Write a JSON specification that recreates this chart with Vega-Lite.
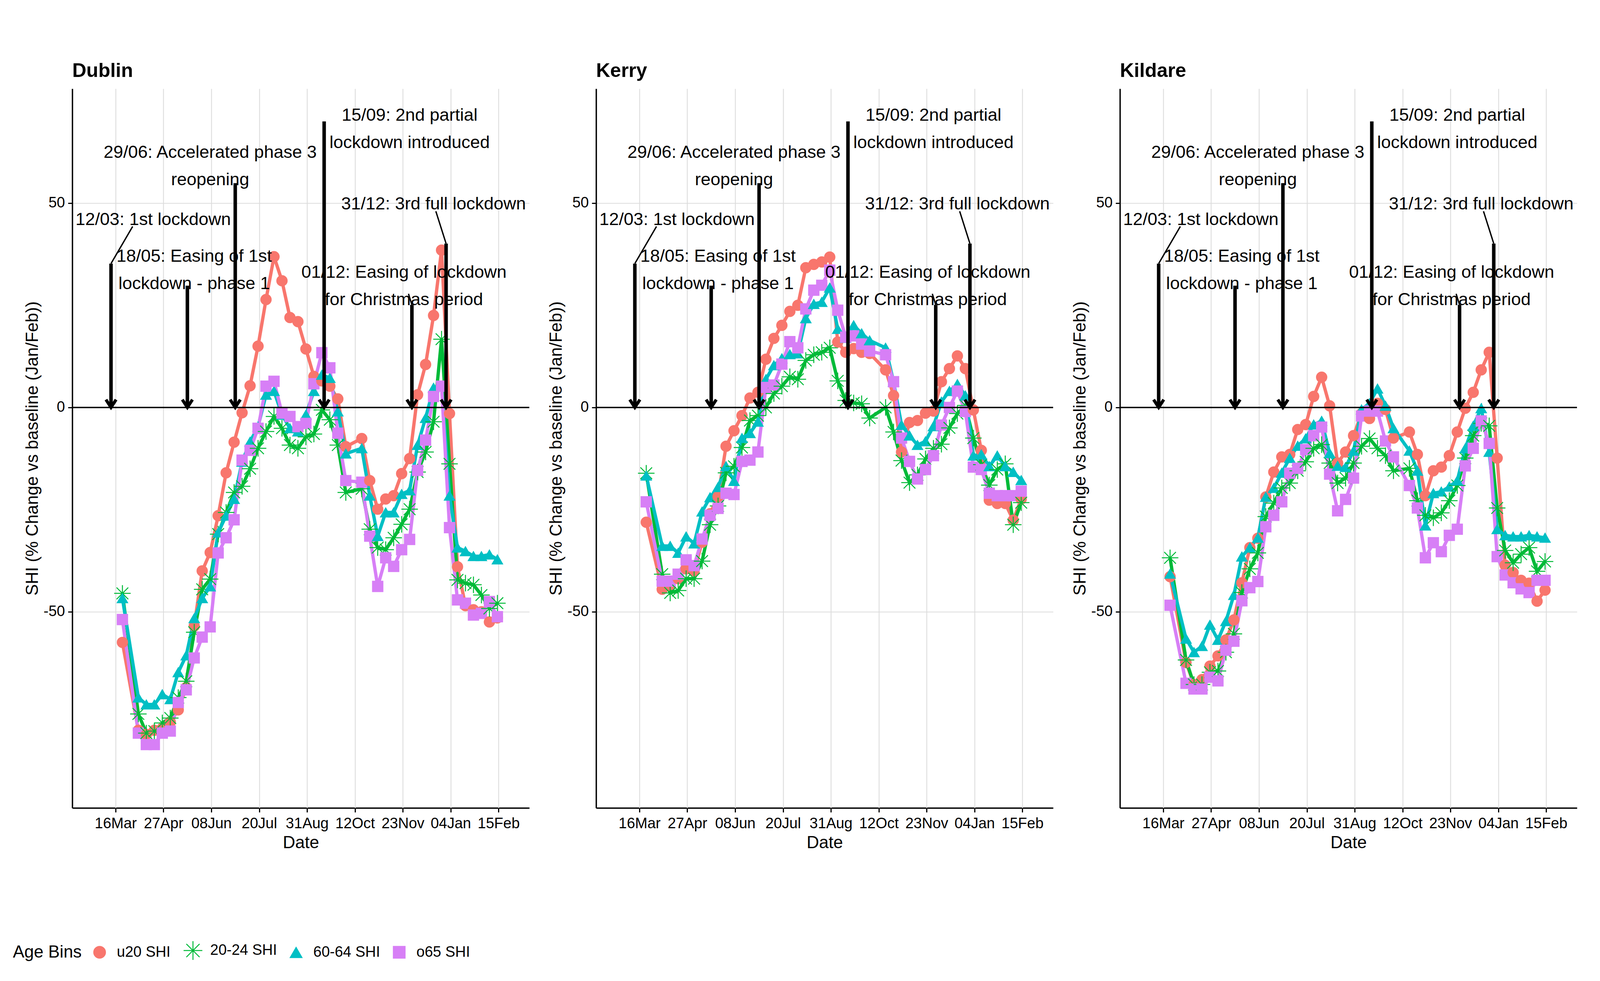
{
  "$schema": "https://vega.github.io/schema/vega-lite/v6.json",
  "background": "white",
  "padding": {"left": 33, "top": 157, "right": 10, "bottom": 10},
  "config": {
    "font": "Liberation Sans",
    "view": {"stroke": null},
    "axis": {"domainColor": "black", "domainWidth": 3.5, "tickColor": "black", "tickWidth": 3, "tickSize": 11, "labelColor": "black", "labelFontSize": 38, "titleFontSize": 44, "titleFontWeight": "normal", "titleColor": "black", "gridColor": "#DCDCDC", "gridWidth": 2.2, "labelFont": "Liberation Sans", "titleFont": "Liberation Sans"},
    "header": {"labelFontSize": 50, "labelFontWeight": "bold", "labelAnchor": "start", "labelColor": "black", "labelFont": "Liberation Sans", "labelPadding": 20},
    "legend": {"labelFontSize": 38, "titleFontSize": 44, "titleFontWeight": "normal", "labelColor": "black", "titleColor": "black", "symbolSize": 900, "symbolStrokeWidth": 2.5, "labelOffset": 25, "columnPadding": 28, "titlePadding": 26, "labelFont": "Liberation Sans", "titleFont": "Liberation Sans", "labelLimit": 500, "titleLimit": 500}
  },
  "data": {"values": [
    {"k":"s","r":"Dublin","d":"2020-03-22","u20 SHI":-57.5,"20-24 SHI":-45.5,"60-64 SHI":-46.7,"o65 SHI":-51.9},
    {"k":"s","r":"Dublin","d":"2020-04-05","u20 SHI":-79,"20-24 SHI":-75,"60-64 SHI":-71,"o65 SHI":-79.7},
    {"k":"s","r":"Dublin","d":"2020-04-12","u20 SHI":-80,"20-24 SHI":-79.7,"60-64 SHI":-72.7,"o65 SHI":-82.5},
    {"k":"s","r":"Dublin","d":"2020-04-19","u20 SHI":-79,"20-24 SHI":-79.2,"60-64 SHI":-72.7,"o65 SHI":-82.5},
    {"k":"s","r":"Dublin","d":"2020-04-26","u20 SHI":-78.5,"20-24 SHI":-77.2,"60-64 SHI":-70.2,"o65 SHI":-79.7},
    {"k":"s","r":"Dublin","d":"2020-05-03","u20 SHI":-77,"20-24 SHI":-76,"60-64 SHI":-71.4,"o65 SHI":-79.2},
    {"k":"s","r":"Dublin","d":"2020-05-10","u20 SHI":-74,"20-24 SHI":-71,"60-64 SHI":-64.8,"o65 SHI":-72.2},
    {"k":"s","r":"Dublin","d":"2020-05-17","u20 SHI":-68.5,"20-24 SHI":-67,"60-64 SHI":-60.7,"o65 SHI":-69.1},
    {"k":"s","r":"Dublin","d":"2020-05-24","u20 SHI":-53.5,"20-24 SHI":-55,"60-64 SHI":-51.6,"o65 SHI":-61.3},
    {"k":"s","r":"Dublin","d":"2020-05-31","u20 SHI":-40,"20-24 SHI":-44.5,"60-64 SHI":-46.7,"o65 SHI":-56.2},
    {"k":"s","r":"Dublin","d":"2020-06-07","u20 SHI":-35.5,"20-24 SHI":-42,"60-64 SHI":-43.8,"o65 SHI":-53.7},
    {"k":"s","r":"Dublin","d":"2020-06-14","u20 SHI":-26.5,"20-24 SHI":-31,"60-64 SHI":-30.6,"o65 SHI":-35.6},
    {"k":"s","r":"Dublin","d":"2020-06-21","u20 SHI":-16,"20-24 SHI":-25.7,"60-64 SHI":-26.5,"o65 SHI":-31.9},
    {"k":"s","r":"Dublin","d":"2020-06-28","u20 SHI":-8.5,"20-24 SHI":-20.8,"60-64 SHI":-22.4,"o65 SHI":-27.5},
    {"k":"s","r":"Dublin","d":"2020-07-05","u20 SHI":-1.3,"20-24 SHI":-19.3,"60-64 SHI":-13.3,"o65 SHI":-12.9},
    {"k":"s","r":"Dublin","d":"2020-07-12","u20 SHI":5.3,"20-24 SHI":-15,"60-64 SHI":-8.4,"o65 SHI":-10.5},
    {"k":"s","r":"Dublin","d":"2020-07-19","u20 SHI":15,"20-24 SHI":-10,"60-64 SHI":-4.7,"o65 SHI":-5.1},
    {"k":"s","r":"Dublin","d":"2020-07-26","u20 SHI":26.4,"20-24 SHI":-5.9,"60-64 SHI":3.1,"o65 SHI":5.2},
    {"k":"s","r":"Dublin","d":"2020-08-02","u20 SHI":36.9,"20-24 SHI":-2.2,"60-64 SHI":4,"o65 SHI":6.4},
    {"k":"s","r":"Dublin","d":"2020-08-09","u20 SHI":31,"20-24 SHI":-5.1,"60-64 SHI":-1.8,"o65 SHI":-1.4},
    {"k":"s","r":"Dublin","d":"2020-08-16","u20 SHI":22,"20-24 SHI":-9.2,"60-64 SHI":-5.1,"o65 SHI":-2.2},
    {"k":"s","r":"Dublin","d":"2020-08-23","u20 SHI":21,"20-24 SHI":-10,"60-64 SHI":-5.9,"o65 SHI":-4.7},
    {"k":"s","r":"Dublin","d":"2020-08-30","u20 SHI":14.3,"20-24 SHI":-7.2,"60-64 SHI":-1.8,"o65 SHI":-3.9},
    {"k":"s","r":"Dublin","d":"2020-09-06","u20 SHI":7.6,"20-24 SHI":-6.5,"60-64 SHI":4,"o65 SHI":5.8},
    {"k":"s","r":"Dublin","d":"2020-09-13","u20 SHI":6.5,"20-24 SHI":-0.6,"60-64 SHI":8,"o65 SHI":13.4},
    {"k":"s","r":"Dublin","d":"2020-09-20","u20 SHI":5.2,"20-24 SHI":-3,"60-64 SHI":7.2,"o65 SHI":9.7},
    {"k":"s","r":"Dublin","d":"2020-09-27","u20 SHI":2.1,"20-24 SHI":-9.2,"60-64 SHI":-1,"o65 SHI":-6.3},
    {"k":"s","r":"Dublin","d":"2020-10-04","u20 SHI":-9.6,"20-24 SHI":-20.8,"60-64 SHI":-11.3,"o65 SHI":-17.9},
    {"k":"s","r":"Dublin","d":"2020-10-18","u20 SHI":-7.6,"20-24 SHI":-19.9,"60-64 SHI":-10,"o65 SHI":-18.3},
    {"k":"s","r":"Dublin","d":"2020-10-25","u20 SHI":-17.9,"20-24 SHI":-29.8,"60-64 SHI":-21.6,"o65 SHI":-31.5},
    {"k":"s","r":"Dublin","d":"2020-11-01","u20 SHI":-24.9,"20-24 SHI":-34.3,"60-64 SHI":-31.5,"o65 SHI":-43.8},
    {"k":"s","r":"Dublin","d":"2020-11-08","u20 SHI":-22.4,"20-24 SHI":-34.8,"60-64 SHI":-25.7,"o65 SHI":-36.8},
    {"k":"s","r":"Dublin","d":"2020-11-15","u20 SHI":-21.6,"20-24 SHI":-31.9,"60-64 SHI":-25.7,"o65 SHI":-38.9},
    {"k":"s","r":"Dublin","d":"2020-11-22","u20 SHI":-16.2,"20-24 SHI":-28.6,"60-64 SHI":-21.2,"o65 SHI":-34.8},
    {"k":"s","r":"Dublin","d":"2020-11-29","u20 SHI":-12.5,"20-24 SHI":-24.9,"60-64 SHI":-20.3,"o65 SHI":-32.3},
    {"k":"s","r":"Dublin","d":"2020-12-06","u20 SHI":3.1,"20-24 SHI":-15.8,"60-64 SHI":-9.2,"o65 SHI":-15.4},
    {"k":"s","r":"Dublin","d":"2020-12-13","u20 SHI":10.5,"20-24 SHI":-10.9,"60-64 SHI":-2.6,"o65 SHI":-8},
    {"k":"s","r":"Dublin","d":"2020-12-20","u20 SHI":22.5,"20-24 SHI":-3.5,"60-64 SHI":4.8,"o65 SHI":2.7},
    {"k":"s","r":"Dublin","d":"2020-12-27","u20 SHI":38.5,"20-24 SHI":16.7,"60-64 SHI":5.2,"o65 SHI":5.2},
    {"k":"s","r":"Dublin","d":"2021-01-03","u20 SHI":-1.5,"20-24 SHI":-13.8,"60-64 SHI":-21.6,"o65 SHI":-29.4},
    {"k":"s","r":"Dublin","d":"2021-01-10","u20 SHI":-39,"20-24 SHI":-42.2,"60-64 SHI":-34.3,"o65 SHI":-47.1},
    {"k":"s","r":"Dublin","d":"2021-01-17","u20 SHI":-48.5,"20-24 SHI":-43,"60-64 SHI":-35.2,"o65 SHI":-47.9},
    {"k":"s","r":"Dublin","d":"2021-01-24","u20 SHI":-49.5,"20-24 SHI":-43.4,"60-64 SHI":-36.4,"o65 SHI":-50.8},
    {"k":"s","r":"Dublin","d":"2021-01-31","u20 SHI":-50,"20-24 SHI":-45.9,"60-64 SHI":-36.4,"o65 SHI":-50.4},
    {"k":"s","r":"Dublin","d":"2021-02-07","u20 SHI":-52.5,"20-24 SHI":-49.2,"60-64 SHI":-36,"o65 SHI":-47.5},
    {"k":"s","r":"Dublin","d":"2021-02-14","u20 SHI":-51.5,"20-24 SHI":-47.9,"60-64 SHI":-37.2,"o65 SHI":-51.2},
    {"k":"s","r":"Kerry","d":"2020-03-22","u20 SHI":-28.1,"20-24 SHI":-16.1,"60-64 SHI":-16.7,"o65 SHI":-23.1},
    {"k":"s","r":"Kerry","d":"2020-04-05","u20 SHI":-44.5,"20-24 SHI":-40.8,"60-64 SHI":-33.9,"o65 SHI":-42.5},
    {"k":"s","r":"Kerry","d":"2020-04-12","u20 SHI":-43.5,"20-24 SHI":-45.4,"60-64 SHI":-33.9,"o65 SHI":-42.5},
    {"k":"s","r":"Kerry","d":"2020-04-19","u20 SHI":-41.9,"20-24 SHI":-44.8,"60-64 SHI":-35.6,"o65 SHI":-40.8},
    {"k":"s","r":"Kerry","d":"2020-04-26","u20 SHI":-39.5,"20-24 SHI":-41.9,"60-64 SHI":-31.6,"o65 SHI":-37.3},
    {"k":"s","r":"Kerry","d":"2020-05-03","u20 SHI":-40,"20-24 SHI":-41.9,"60-64 SHI":-33.3,"o65 SHI":-38.7},
    {"k":"s","r":"Kerry","d":"2020-05-10","u20 SHI":-33,"20-24 SHI":-37.6,"60-64 SHI":-25.5,"o65 SHI":-32.2},
    {"k":"s","r":"Kerry","d":"2020-05-17","u20 SHI":-26,"20-24 SHI":-28.7,"60-64 SHI":-22,"o65 SHI":-26.4},
    {"k":"s","r":"Kerry","d":"2020-05-24","u20 SHI":-21.8,"20-24 SHI":-24.1,"60-64 SHI":-19.5,"o65 SHI":-24.7},
    {"k":"s","r":"Kerry","d":"2020-05-31","u20 SHI":-9.5,"20-24 SHI":-16,"60-64 SHI":-14.4,"o65 SHI":-21},
    {"k":"s","r":"Kerry","d":"2020-06-07","u20 SHI":-5.7,"20-24 SHI":-14.4,"60-64 SHI":-18,"o65 SHI":-21.3},
    {"k":"s","r":"Kerry","d":"2020-06-14","u20 SHI":-2,"20-24 SHI":-9.8,"60-64 SHI":-7.5,"o65 SHI":-13.2},
    {"k":"s","r":"Kerry","d":"2020-06-21","u20 SHI":2.3,"20-24 SHI":-3.2,"60-64 SHI":-6.3,"o65 SHI":-12.9},
    {"k":"s","r":"Kerry","d":"2020-06-28","u20 SHI":3.7,"20-24 SHI":-2,"60-64 SHI":-3.5,"o65 SHI":-10.9},
    {"k":"s","r":"Kerry","d":"2020-07-05","u20 SHI":11.8,"20-24 SHI":0,"60-64 SHI":6.9,"o65 SHI":4.9},
    {"k":"s","r":"Kerry","d":"2020-07-12","u20 SHI":16.9,"20-24 SHI":3.4,"60-64 SHI":10.3,"o65 SHI":5.5},
    {"k":"s","r":"Kerry","d":"2020-07-19","u20 SHI":20.1,"20-24 SHI":5.2,"60-64 SHI":12,"o65 SHI":10.6},
    {"k":"s","r":"Kerry","d":"2020-07-26","u20 SHI":23.5,"20-24 SHI":7.5,"60-64 SHI":13,"o65 SHI":16.1},
    {"k":"s","r":"Kerry","d":"2020-08-02","u20 SHI":25,"20-24 SHI":6.9,"60-64 SHI":13.2,"o65 SHI":14.6},
    {"k":"s","r":"Kerry","d":"2020-08-09","u20 SHI":34.2,"20-24 SHI":11.5,"60-64 SHI":21.8,"o65 SHI":24.1},
    {"k":"s","r":"Kerry","d":"2020-08-16","u20 SHI":35,"20-24 SHI":12.9,"60-64 SHI":25.3,"o65 SHI":28.7},
    {"k":"s","r":"Kerry","d":"2020-08-23","u20 SHI":35.6,"20-24 SHI":13.5,"60-64 SHI":25.8,"o65 SHI":29.9},
    {"k":"s","r":"Kerry","d":"2020-08-30","u20 SHI":36.8,"20-24 SHI":14.6,"60-64 SHI":29.3,"o65 SHI":33.6},
    {"k":"s","r":"Kerry","d":"2020-09-06","u20 SHI":16,"20-24 SHI":6.5,"60-64 SHI":19.2,"o65 SHI":23.8},
    {"k":"s","r":"Kerry","d":"2020-09-13","u20 SHI":13.5,"20-24 SHI":1.7,"60-64 SHI":17,"o65 SHI":17.2},
    {"k":"s","r":"Kerry","d":"2020-09-20","u20 SHI":14.4,"20-24 SHI":1.1,"60-64 SHI":20.1,"o65 SHI":17.5},
    {"k":"s","r":"Kerry","d":"2020-09-27","u20 SHI":13.5,"20-24 SHI":0.9,"60-64 SHI":18.1,"o65 SHI":15.5},
    {"k":"s","r":"Kerry","d":"2020-10-04","u20 SHI":13.2,"20-24 SHI":-2.6,"60-64 SHI":16.4,"o65 SHI":13.8},
    {"k":"s","r":"Kerry","d":"2020-10-18","u20 SHI":9.2,"20-24 SHI":0,"60-64 SHI":14.6,"o65 SHI":12.9},
    {"k":"s","r":"Kerry","d":"2020-10-25","u20 SHI":2.9,"20-24 SHI":-6,"60-64 SHI":6.3,"o65 SHI":6.3},
    {"k":"s","r":"Kerry","d":"2020-11-01","u20 SHI":-10.9,"20-24 SHI":-13,"60-64 SHI":-4.3,"o65 SHI":-7.5},
    {"k":"s","r":"Kerry","d":"2020-11-08","u20 SHI":-3.7,"20-24 SHI":-18.4,"60-64 SHI":-6.9,"o65 SHI":-13.2},
    {"k":"s","r":"Kerry","d":"2020-11-15","u20 SHI":-3.2,"20-24 SHI":-16.5,"60-64 SHI":-9.2,"o65 SHI":-17.5},
    {"k":"s","r":"Kerry","d":"2020-11-22","u20 SHI":-1.4,"20-24 SHI":-12.6,"60-64 SHI":-8.3,"o65 SHI":-15.2},
    {"k":"s","r":"Kerry","d":"2020-11-29","u20 SHI":-0.9,"20-24 SHI":-10,"60-64 SHI":-4.6,"o65 SHI":-11.8},
    {"k":"s","r":"Kerry","d":"2020-12-06","u20 SHI":6.3,"20-24 SHI":-9,"60-64 SHI":1.4,"o65 SHI":-4.3},
    {"k":"s","r":"Kerry","d":"2020-12-13","u20 SHI":9.5,"20-24 SHI":-5,"60-64 SHI":4,"o65 SHI":0},
    {"k":"s","r":"Kerry","d":"2020-12-20","u20 SHI":12.6,"20-24 SHI":-1.5,"60-64 SHI":5.7,"o65 SHI":4},
    {"k":"s","r":"Kerry","d":"2020-12-27","u20 SHI":9.5,"20-24 SHI":0.5,"60-64 SHI":2.9,"o65 SHI":-1},
    {"k":"s","r":"Kerry","d":"2021-01-03","u20 SHI":-0.6,"20-24 SHI":-7.5,"60-64 SHI":-11.8,"o65 SHI":-14.6},
    {"k":"s","r":"Kerry","d":"2021-01-10","u20 SHI":-10.5,"20-24 SHI":-14,"60-64 SHI":-11.5,"o65 SHI":-15.2},
    {"k":"s","r":"Kerry","d":"2021-01-17","u20 SHI":-22.7,"20-24 SHI":-19,"60-64 SHI":-14.4,"o65 SHI":-21},
    {"k":"s","r":"Kerry","d":"2021-01-24","u20 SHI":-23.5,"20-24 SHI":-15.2,"60-64 SHI":-11.8,"o65 SHI":-21.6},
    {"k":"s","r":"Kerry","d":"2021-01-31","u20 SHI":-23.5,"20-24 SHI":-13.8,"60-64 SHI":-14.4,"o65 SHI":-21.6},
    {"k":"s","r":"Kerry","d":"2021-02-07","u20 SHI":-27.6,"20-24 SHI":-28.7,"60-64 SHI":-15.8,"o65 SHI":-21.6},
    {"k":"s","r":"Kerry","d":"2021-02-14","u20 SHI":-22.4,"20-24 SHI":-23.3,"60-64 SHI":-17.8,"o65 SHI":-20.5},
    {"k":"s","r":"Kildare","d":"2020-03-22","u20 SHI":-41.4,"20-24 SHI":-36.8,"60-64 SHI":-40.7,"o65 SHI":-48.4},
    {"k":"s","r":"Kildare","d":"2020-04-05","u20 SHI":-62.4,"20-24 SHI":-61.8,"60-64 SHI":-56.6,"o65 SHI":-67.5},
    {"k":"s","r":"Kildare","d":"2020-04-12","u20 SHI":-67.8,"20-24 SHI":-67.8,"60-64 SHI":-59.9,"o65 SHI":-68.9},
    {"k":"s","r":"Kildare","d":"2020-04-19","u20 SHI":-66.6,"20-24 SHI":-67.8,"60-64 SHI":-58.4,"o65 SHI":-68.9},
    {"k":"s","r":"Kildare","d":"2020-04-26","u20 SHI":-63.3,"20-24 SHI":-64.8,"60-64 SHI":-53.2,"o65 SHI":-66},
    {"k":"s","r":"Kildare","d":"2020-05-03","u20 SHI":-60.8,"20-24 SHI":-64.5,"60-64 SHI":-56.9,"o65 SHI":-66.9},
    {"k":"s","r":"Kildare","d":"2020-05-10","u20 SHI":-56.9,"20-24 SHI":-59.9,"60-64 SHI":-52.3,"o65 SHI":-59.4},
    {"k":"s","r":"Kildare","d":"2020-05-17","u20 SHI":-52,"20-24 SHI":-55.4,"60-64 SHI":-45.9,"o65 SHI":-57.2},
    {"k":"s","r":"Kildare","d":"2020-05-24","u20 SHI":-42.9,"20-24 SHI":-45.3,"60-64 SHI":-36.5,"o65 SHI":-47.3},
    {"k":"s","r":"Kildare","d":"2020-05-31","u20 SHI":-34.3,"20-24 SHI":-39.5,"60-64 SHI":-34.3,"o65 SHI":-44.1},
    {"k":"s","r":"Kildare","d":"2020-06-07","u20 SHI":-32,"20-24 SHI":-35.6,"60-64 SHI":-31.9,"o65 SHI":-42.6},
    {"k":"s","r":"Kildare","d":"2020-06-14","u20 SHI":-21.9,"20-24 SHI":-26.7,"60-64 SHI":-21.9,"o65 SHI":-29.2},
    {"k":"s","r":"Kildare","d":"2020-06-21","u20 SHI":-15.8,"20-24 SHI":-23.4,"60-64 SHI":-19.7,"o65 SHI":-26.4},
    {"k":"s","r":"Kildare","d":"2020-06-28","u20 SHI":-12.1,"20-24 SHI":-19.7,"60-64 SHI":-16,"o65 SHI":-23.1},
    {"k":"s","r":"Kildare","d":"2020-07-05","u20 SHI":-11.5,"20-24 SHI":-18.5,"60-64 SHI":-12.4,"o65 SHI":-16.1},
    {"k":"s","r":"Kildare","d":"2020-07-12","u20 SHI":-5.4,"20-24 SHI":-15.5,"60-64 SHI":-9.4,"o65 SHI":-14.9},
    {"k":"s","r":"Kildare","d":"2020-07-19","u20 SHI":-4.2,"20-24 SHI":-13.3,"60-64 SHI":-7.6,"o65 SHI":-10.3},
    {"k":"s","r":"Kildare","d":"2020-07-26","u20 SHI":2.7,"20-24 SHI":-10,"60-64 SHI":-4.2,"o65 SHI":-6.9},
    {"k":"s","r":"Kildare","d":"2020-08-02","u20 SHI":7.4,"20-24 SHI":-9.1,"60-64 SHI":-3.3,"o65 SHI":-4.8},
    {"k":"s","r":"Kildare","d":"2020-08-09","u20 SHI":0.4,"20-24 SHI":-13.6,"60-64 SHI":-11.2,"o65 SHI":-16.3},
    {"k":"s","r":"Kildare","d":"2020-08-16","u20 SHI":-13.6,"20-24 SHI":-18.5,"60-64 SHI":-14.3,"o65 SHI":-25.3},
    {"k":"s","r":"Kildare","d":"2020-08-23","u20 SHI":-10.9,"20-24 SHI":-17.3,"60-64 SHI":-14.6,"o65 SHI":-22.5},
    {"k":"s","r":"Kildare","d":"2020-08-30","u20 SHI":-6.9,"20-24 SHI":-13.6,"60-64 SHI":-10.6,"o65 SHI":-17.3},
    {"k":"s","r":"Kildare","d":"2020-09-06","u20 SHI":-1.5,"20-24 SHI":-9.5,"60-64 SHI":-0.5,"o65 SHI":-2.1},
    {"k":"s","r":"Kildare","d":"2020-09-13","u20 SHI":-2.7,"20-24 SHI":-7.6,"60-64 SHI":1,"o65 SHI":-0.9},
    {"k":"s","r":"Kildare","d":"2020-09-20","u20 SHI":1,"20-24 SHI":-10,"60-64 SHI":4.6,"o65 SHI":-0.9},
    {"k":"s","r":"Kildare","d":"2020-09-27","u20 SHI":-0.5,"20-24 SHI":-11.8,"60-64 SHI":0.4,"o65 SHI":-8.2},
    {"k":"s","r":"Kildare","d":"2020-10-04","u20 SHI":-7.5,"20-24 SHI":-15.5,"60-64 SHI":-5.1,"o65 SHI":-12.1},
    {"k":"s","r":"Kildare","d":"2020-10-18","u20 SHI":-6,"20-24 SHI":-14.9,"60-64 SHI":-10.6,"o65 SHI":-19.1},
    {"k":"s","r":"Kildare","d":"2020-10-25","u20 SHI":-11.5,"20-24 SHI":-22.8,"60-64 SHI":-15.5,"o65 SHI":-24.6},
    {"k":"s","r":"Kildare","d":"2020-11-01","u20 SHI":-21.6,"20-24 SHI":-26.4,"60-64 SHI":-28.9,"o65 SHI":-36.8},
    {"k":"s","r":"Kildare","d":"2020-11-08","u20 SHI":-15.5,"20-24 SHI":-27,"60-64 SHI":-21,"o65 SHI":-33.1},
    {"k":"s","r":"Kildare","d":"2020-11-15","u20 SHI":-14.6,"20-24 SHI":-25.8,"60-64 SHI":-20.6,"o65 SHI":-35.3},
    {"k":"s","r":"Kildare","d":"2020-11-22","u20 SHI":-11.8,"20-24 SHI":-22.8,"60-64 SHI":-19.4,"o65 SHI":-31.3},
    {"k":"s","r":"Kildare","d":"2020-11-29","u20 SHI":-6,"20-24 SHI":-19.1,"60-64 SHI":-17.9,"o65 SHI":-29.8},
    {"k":"s","r":"Kildare","d":"2020-12-06","u20 SHI":-0.2,"20-24 SHI":-12.4,"60-64 SHI":-10,"o65 SHI":-14.3},
    {"k":"s","r":"Kildare","d":"2020-12-13","u20 SHI":3.7,"20-24 SHI":-6.9,"60-64 SHI":-4.5,"o65 SHI":-10},
    {"k":"s","r":"Kildare","d":"2020-12-20","u20 SHI":9.2,"20-24 SHI":-3.9,"60-64 SHI":-0.2,"o65 SHI":-3.3},
    {"k":"s","r":"Kildare","d":"2020-12-27","u20 SHI":13.5,"20-24 SHI":-4.5,"60-64 SHI":-10.9,"o65 SHI":-8.8},
    {"k":"s","r":"Kildare","d":"2021-01-03","u20 SHI":-12.4,"20-24 SHI":-24.6,"60-64 SHI":-29.8,"o65 SHI":-36.5},
    {"k":"s","r":"Kildare","d":"2021-01-10","u20 SHI":-38.6,"20-24 SHI":-35,"60-64 SHI":-31.3,"o65 SHI":-41},
    {"k":"s","r":"Kildare","d":"2021-01-17","u20 SHI":-40.4,"20-24 SHI":-38,"60-64 SHI":-31.6,"o65 SHI":-42.9},
    {"k":"s","r":"Kildare","d":"2021-01-24","u20 SHI":-42.3,"20-24 SHI":-35.9,"60-64 SHI":-31.6,"o65 SHI":-44.4},
    {"k":"s","r":"Kildare","d":"2021-01-31","u20 SHI":-43,"20-24 SHI":-34.3,"60-64 SHI":-31.3,"o65 SHI":-45.3},
    {"k":"s","r":"Kildare","d":"2021-02-07","u20 SHI":-47.4,"20-24 SHI":-40.1,"60-64 SHI":-31.6,"o65 SHI":-42.3},
    {"k":"s","r":"Kildare","d":"2021-02-14","u20 SHI":-44.7,"20-24 SHI":-37.7,"60-64 SHI":-31.9,"o65 SHI":-42.3},
    {"k":"e","r":"Dublin","ed":"2020-03-12","top":35.2,"lab":"12/03: 1st lockdown","ld":"2020-04-18","ly":46,"lsx":"2020-03-31","lsy":44.3},
    {"k":"e","r":"Dublin","ed":"2020-05-18","top":29.8,"lab":"18/05: Easing of 1st\nlockdown - phase 1","ld":"2020-05-24","ly":37},
    {"k":"e","r":"Dublin","ed":"2020-06-29","top":54.9,"lab":"29/06: Accelerated phase 3\nreopening","ld":"2020-06-07","ly":62.4},
    {"k":"e","r":"Dublin","ed":"2020-09-15","top":70,"lab":"15/09: 2nd partial\nlockdown introduced","ld":"2020-11-29","ly":71.5},
    {"k":"e","r":"Dublin","ed":"2020-12-01","top":25.1,"lab":"01/12: Easing of lockdown\nfor Christmas period","ld":"2020-11-24","ly":33.1,"lsx":"2020-11-28","lsy":27.8},
    {"k":"e","r":"Dublin","ed":"2020-12-31","top":40.1,"lab":"31/12: 3rd full lockdown","ld":"2020-12-20","ly":49.8,"lsx":"2020-12-22","lsy":48},
    {"k":"e","r":"Kerry","ed":"2020-03-12","top":35.2,"lab":"12/03: 1st lockdown","ld":"2020-04-18","ly":46,"lsx":"2020-03-31","lsy":44.3},
    {"k":"e","r":"Kerry","ed":"2020-05-18","top":29.8,"lab":"18/05: Easing of 1st\nlockdown - phase 1","ld":"2020-05-24","ly":37},
    {"k":"e","r":"Kerry","ed":"2020-06-29","top":54.9,"lab":"29/06: Accelerated phase 3\nreopening","ld":"2020-06-07","ly":62.4},
    {"k":"e","r":"Kerry","ed":"2020-09-15","top":70,"lab":"15/09: 2nd partial\nlockdown introduced","ld":"2020-11-29","ly":71.5},
    {"k":"e","r":"Kerry","ed":"2020-12-01","top":25.1,"lab":"01/12: Easing of lockdown\nfor Christmas period","ld":"2020-11-24","ly":33.1,"lsx":"2020-11-28","lsy":27.8},
    {"k":"e","r":"Kerry","ed":"2020-12-31","top":40.1,"lab":"31/12: 3rd full lockdown","ld":"2020-12-20","ly":49.8,"lsx":"2020-12-22","lsy":48},
    {"k":"e","r":"Kildare","ed":"2020-03-12","top":35.2,"lab":"12/03: 1st lockdown","ld":"2020-04-18","ly":46,"lsx":"2020-03-31","lsy":44.3},
    {"k":"e","r":"Kildare","ed":"2020-05-18","top":29.8,"lab":"18/05: Easing of 1st\nlockdown - phase 1","ld":"2020-05-24","ly":37},
    {"k":"e","r":"Kildare","ed":"2020-06-29","top":54.9,"lab":"29/06: Accelerated phase 3\nreopening","ld":"2020-06-07","ly":62.4},
    {"k":"e","r":"Kildare","ed":"2020-09-15","top":70,"lab":"15/09: 2nd partial\nlockdown introduced","ld":"2020-11-29","ly":71.5},
    {"k":"e","r":"Kildare","ed":"2020-12-01","top":25.1,"lab":"01/12: Easing of lockdown\nfor Christmas period","ld":"2020-11-24","ly":33.1,"lsx":"2020-11-28","lsy":27.8},
    {"k":"e","r":"Kildare","ed":"2020-12-31","top":40.1,"lab":"31/12: 3rd full lockdown","ld":"2020-12-20","ly":49.8,"lsx":"2020-12-22","lsy":48}
  ]},
  "facet": {"column": {"field": "r", "type": "nominal", "header": {"title": null}}},
  "spacing": 45,
  "resolve": {"axis": {"y": "independent"}},
  "spec": {
    "width": 1170,
    "height": 1841,
    "layer": [
      {
        "transform": [{"filter": "datum.k == 's'"}, {"fold": ["u20 SHI", "20-24 SHI", "60-64 SHI", "o65 SHI"], "as": ["bin", "v"]}],
        "mark": {"type": "line", "strokeWidth": 8.5},
        "encoding": {
          "x": {"field": "d", "type": "temporal", "title": "Date",
                "scale": {"type": "utc", "domain": [{"year": 2020, "month": 2, "date": 7, "utc": true}, {"year": 2021, "month": 3, "date": 14, "utc": true}]},
                "axis": {"values": [{"year": 2020, "month": 3, "date": 16, "utc": true}, {"year": 2020, "month": 4, "date": 27, "utc": true}, {"year": 2020, "month": 6, "date": 8, "utc": true}, {"year": 2020, "month": 7, "date": 20, "utc": true}, {"year": 2020, "month": 8, "date": 31, "utc": true}, {"year": 2020, "month": 10, "date": 12, "utc": true}, {"year": 2020, "month": 11, "date": 23, "utc": true}, {"year": 2021, "month": 1, "date": 4, "utc": true}, {"year": 2021, "month": 2, "date": 15, "utc": true}],
                         "format": "%d%b", "grid": true, "labelPadding": 10, "titlePadding": 8, "labelFlush": false, "labelOverlap": false}},
          "y": {"field": "v", "type": "quantitative", "title": "SHI (% Change vs baseline (Jan/Feb))",
                "scale": {"domain": [-98, 78], "nice": false, "zero": false},
                "axis": {"values": [-50, 0, 50], "labelExpr": "datum.value + ''", "grid": true, "labelPadding": 8, "titlePadding": 6}},
          "color": {"field": "bin", "type": "nominal", "title": "Age Bins",
                    "scale": {"domain": ["u20 SHI", "20-24 SHI", "60-64 SHI", "o65 SHI"], "range": ["#F8766D", "#00BA38", "#00BFC4", "#D77FF6"]}}
        }
      },
      {
        "transform": [{"filter": "datum.k == 's'"}, {"fold": ["u20 SHI", "20-24 SHI", "60-64 SHI", "o65 SHI"], "as": ["bin", "v"]}],
        "mark": {"type": "point", "filled": true, "size": 700, "strokeWidth": 2.5, "opacity": 1},
        "encoding": {
          "x": {"field": "d", "type": "temporal", "title": "Date"},
          "y": {"field": "v", "type": "quantitative", "title": "SHI (% Change vs baseline (Jan/Feb))"},
          "color": {"field": "bin", "type": "nominal", "title": "Age Bins",
                    "legend": {"orient": "none", "legendX": -152, "legendY": 2187, "direction": "horizontal", "titleOrient": "left", "titleBaseline": "middle"}},
          "stroke": {"field": "bin", "type": "nominal", "title": "Age Bins",
                     "scale": {"domain": ["u20 SHI", "20-24 SHI", "60-64 SHI", "o65 SHI"], "range": ["#F8766D", "#00BA38", "#00BFC4", "#D77FF6"]}},
          "shape": {"field": "bin", "type": "nominal", "title": "Age Bins",
                    "scale": {"domain": ["u20 SHI", "20-24 SHI", "60-64 SHI", "o65 SHI"], "range": ["circle", "M0,-1.6L0,1.6M-1.6,0L1.6,0M-1.13,-1.13L1.13,1.13M-1.13,1.13L1.13,-1.13", "triangle-up", "square"]}}
        }
      },
      {
        "transform": [{"filter": "datum.k == 'e' && datum.lab == '12/03: 1st lockdown'"}],
        "mark": {"type": "rule", "color": "black", "strokeWidth": 3.5},
        "encoding": {"y": {"datum": 0}}
      },
      {
        "transform": [{"filter": "datum.k == 'e'"}],
        "mark": {"type": "rule", "color": "black", "strokeWidth": 9},
        "encoding": {
          "x": {"field": "ed", "type": "temporal", "title": "Date"},
          "y": {"field": "top", "type": "quantitative", "title": "SHI (% Change vs baseline (Jan/Feb))"},
          "y2": {"datum": 0}
        }
      },
      {
        "transform": [{"filter": "datum.k == 'e'"}],
        "mark": {"type": "point", "shape": "M-0.65,-1L0,0L0.65,-1", "filled": false, "stroke": "black", "strokeWidth": 8, "size": 1600, "opacity": 1},
        "encoding": {
          "x": {"field": "ed", "type": "temporal", "title": "Date"},
          "y": {"datum": 0}
        }
      },
      {
        "transform": [{"filter": "datum.k == 'e' && isValid(datum.lsx)"}],
        "mark": {"type": "rule", "color": "black", "strokeWidth": 3.5},
        "encoding": {
          "x": {"field": "lsx", "type": "temporal", "title": "Date"},
          "y": {"field": "lsy", "type": "quantitative", "title": "SHI (% Change vs baseline (Jan/Feb))"},
          "x2": {"field": "ed"},
          "y2": {"field": "top"}
        }
      },
      {
        "transform": [{"filter": "datum.k == 'e'"}],
        "mark": {"type": "text", "fontSize": 45, "lineBreak": "\n", "lineHeight": 70, "align": "center", "baseline": "middle", "color": "black", "font": "Liberation Sans"},
        "encoding": {
          "x": {"field": "ld", "type": "temporal", "title": "Date"},
          "y": {"field": "ly", "type": "quantitative", "title": "SHI (% Change vs baseline (Jan/Feb))"},
          "text": {"field": "lab"}
        }
      }
    ]
  }
}
